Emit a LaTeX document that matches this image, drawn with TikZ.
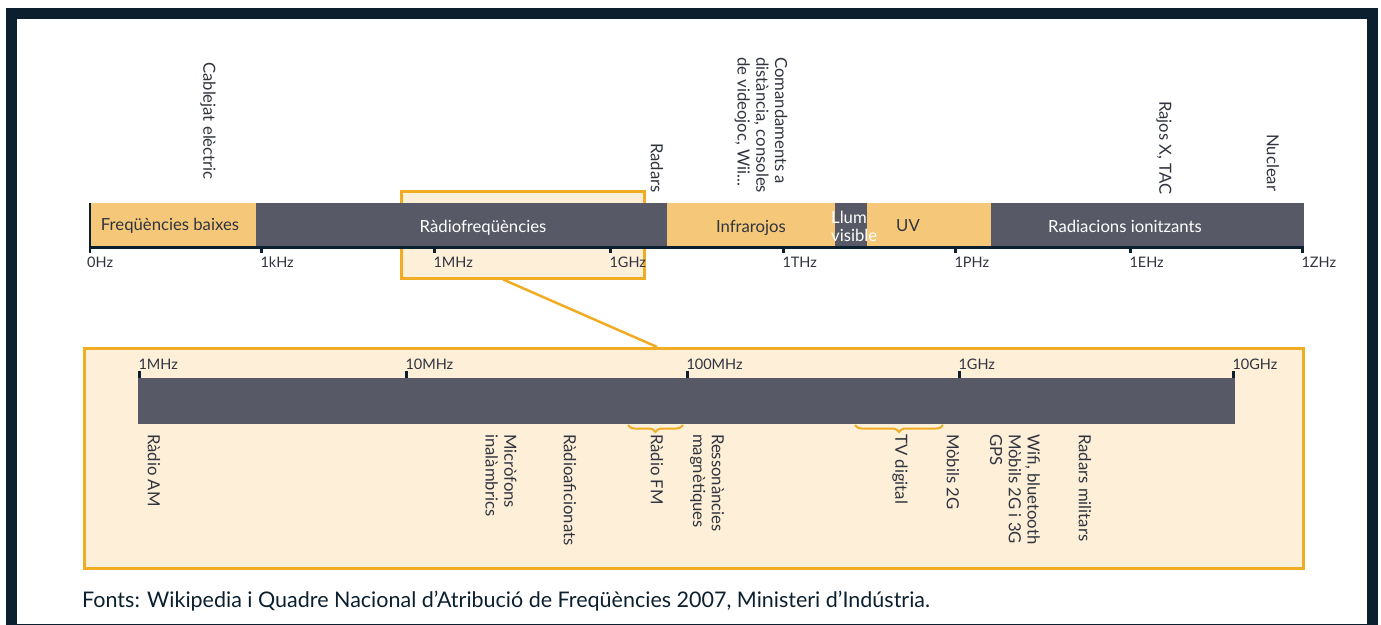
\documentclass[tikz,border=0pt]{standalone}
\usepackage{fontspec}
\setmainfont{Lato}
\usetikzlibrary{positioning}
\usetikzlibrary{calc}
\usetikzlibrary{decorations.pathreplacing}
\definecolor{frame colour}{HTML}{0B1F2E}
\definecolor{warm colour}{HTML}{F4C878}
\definecolor{dark colour}{HTML}{575A66}
\definecolor{zoom colour}{HTML}{FDEFD8}
\definecolor{accent colour}{HTML}{F0AC23}
\definecolor{text colour}{HTML}{30343F}
\tikzset{
    % Fills for the bands
    warm fill/.style={fill=warm colour},
    dark fill/.style={fill=dark colour},
    zoom fill/.style={fill=zoom colour},
%
    every node/.style={align=center, text=text colour,
        font=\fontsize{16.7}{18.8}\selectfont},
%
    band/.style={draw=none, rectangle, inner sep=0pt, anchor=north west,
        minimum height=43pt},
    band label/.style={inner sep=0pt},
    light label/.style={band label, text=white},
    zoom box/.style={draw=accent colour, line width=2.5pt, zoom fill,
        rectangle, inner sep=0pt, anchor=north west},
    axis/.style={draw=frame colour, line width=3pt},
    tick/.style={draw=frame colour, line width=3pt},
    tick label/.style={anchor=west, inner sep=0pt,
        font=\fontsize{14.5}{17}\selectfont},
    use label/.style={rotate=-90, anchor=west, align=left, inner sep=0pt},
    zoom line/.style={draw=accent colour, line width=2.5pt},
    span brace/.style={draw=accent colour, line width=2pt,
        decorate, decoration={brace, mirror, amplitude=7pt}},
}

\begin{document}
\begin{tikzpicture}[x=1pt, y=-1pt]
\useasboundingbox (0,0) rectangle (1381,624);

\draw [draw=frame colour, line width=11pt] (11.5,13.5) rectangle (1372.5,629);

% the part that is shown below, behind the bands
\node [zoom box, minimum width=243pt, minimum height=87pt] (rf) at (400,190) {};

\path
    (90,203) node [band, warm fill, minimum width=166pt] (low) {}
    (256,203) node [band, dark fill, minimum width=411pt] (radio) {}
    (667,203) node [band, warm fill, minimum width=168pt] (infra) {}
    (835,203) node [band, dark fill, minimum width=32pt] (light) {}
    (867,203) node [band, warm fill, minimum width=124pt] (uv) {}
    (991,203) node [band, dark fill, minimum width=313pt] (ion) {};

\path
    (170,226) node [band label] (low text) {Freqüències baixes}
    (483,228) node [light label] (radio text) {Ràdiofreqüències}
    (751,228) node [band label] (infra text) {Infrarojos}
    (831,226.5) node [light label, anchor=west, align=left] (light text)
        {Llum\\visible}
    (908,226) node [band label] (uv text) {UV}
    (1125,226) node [light label] (ion text) {Radiacions ionitzants};

\draw [axis] (90,247.5) -- (1304,247.5);
\draw [tick, line width=2.5pt] (90,203) -- (90,253);
\node [tick label] (hz-0Hz) at (87,262) {0Hz};
\foreach \x/\hz in {261/1kHz, 434/1MHz, 610/1GHz, 783/1THz,
        955/1PHz, 1130/1EHz, 1302/1ZHz}
    \draw [tick] (\x,247) -- (\x,253)
        node [tick label] (hz-\hz) at (\x-2,262) {\hz};

\path
    (208,62) node [use label] (cable) {Cablejat elèctric}
    (657,143) node [use label] (radar) {Radars}
    (761,57) node [use label] (remote)
        {Comandaments a\\distància, consoles\\de videojoc, Wii...}
    (1164,101) node [use label] (xray) {Rajos X, TAC}
    (1273,134) node [use label] (nuclear) {Nuclear};

% detail of the radio frequencies
\node [zoom box, minimum width=1219pt, minimum height=220pt] (detail) at (83,347) {};
\draw [zoom line] ($(rf.south west)!0.42!(rf.south east)$)
    -- ($(detail.north west)!0.47!(detail.north east)$);

\node [band, dark fill, minimum width=1097pt, minimum height=46pt] (spectrum)
    at (138,378) {};
\foreach \x/\hz in {139/1MHz, 406/10MHz, 687/100MHz, 959/1GHz, 1233/10GHz}
    \draw [tick] (\x,371) -- (\x,378)
        node [tick label] (mhz-\hz) at (\x-2,364) {\hz};

\draw [span brace] (628,425) -- (683,425);
\draw [span brace] (855,425) -- (943,425);

\path
    (154,434) node [use label] (am) {Ràdio AM}
    (501,434) node [use label] (mic) {Micròfons\\inalàmbrics}
    (570,434) node [use label] (ham) {Ràdioaficionats}
    (657,434) node [use label] (fm) {Ràdio FM}
    (707,434) node [use label] (mri) {Ressonàncies\\magnètiques}
    (900,434) node [use label] (tv) {TV digital}
    (953,434) node [use label] (gsm) {Mòbils 2G}
    (1015,434) node [use label] (wifi) {Wifi, bluetooth\\Mòbils 2G i 3G\\GPS}
    (1085,434) node [use label] (military) {Radars militars};

\node [anchor=west, inner sep=0pt, text=frame colour,
    font=\fontsize{21.5}{25}\selectfont] (source) at (82,601)
    {Fonts: Wikipedia i Quadre Nacional d’Atribució de Freqüències 2007, Ministeri d’Indústria.};

\end{tikzpicture}
\end{document}
